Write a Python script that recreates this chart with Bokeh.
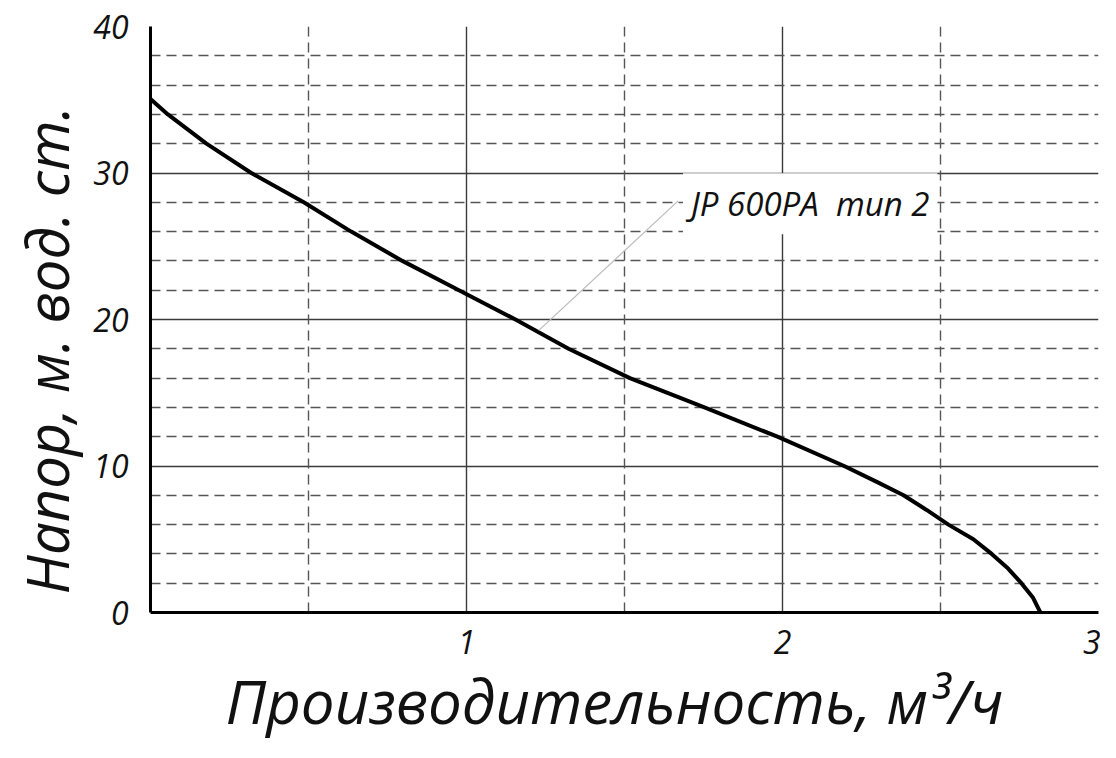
from bokeh.plotting import figure
from bokeh.models import ColumnDataSource, FixedTicker, Grid, Label, Range1d, Title
from bokeh.embed import file_html
from bokeh.resources import INLINE

# Data: pump curve JP 600PA тип 2 (flow m3/h, head m)
flow = [0.0, 0.055, 0.177, 0.319, 0.485, 0.635, 0.797, 0.976, 1.155, 1.323,
        1.517, 1.753, 1.984, 2.195, 2.30, 2.383, 2.456, 2.525, 2.604, 2.662,
        2.714, 2.756, 2.793, 2.816]
head = [35.05, 34, 32, 30, 28, 26, 24, 22, 20, 18,
        16, 14, 12, 10, 8.9, 8, 7, 6, 5, 4,
        3, 2, 1, 0]
x_ticks = [1, 2, 3]
y_ticks = [0, 10, 20, 30, 40]
x_major_grid = [1, 2]
x_minor_grid = [0.5, 1.5, 2.5]
y_major_grid = [10, 20, 30]
y_minor_grid = [2, 4, 6, 8, 12, 14, 16, 18, 22, 24, 26, 28, 32, 34, 36, 38]
series_name = "JP 600PA \u00a0тип 2"
x_title = "Производительность, м³/ч"
y_title = "Напор, м. вод. ст."
leader_x = [1.229, 1.67]
leader_y = [19.26, 28.1]

FONT = "Open Sans"

p = figure(width=1100, height=742, output_backend="svg", toolbar_location=None,
           x_range=Range1d(0, 3), y_range=Range1d(0, 40),
           min_border_left=150, min_border_right=2, min_border_top=26,
           min_border_bottom=130)
p.outline_line_color = None
p.background_fill_color = "white"

# grids
p.xgrid.ticker = FixedTicker(ticks=x_major_grid)
p.xgrid.grid_line_color = "#3a3a3a"
p.xgrid.grid_line_width = 1.4
p.ygrid.ticker = FixedTicker(ticks=y_major_grid)
p.ygrid.grid_line_color = "#3a3a3a"
p.ygrid.grid_line_width = 1.4

gx = Grid(dimension=0, ticker=FixedTicker(ticks=x_minor_grid),
          grid_line_color="#555555", grid_line_width=1.4, grid_line_dash="10 6")
gy = Grid(dimension=1, ticker=FixedTicker(ticks=y_minor_grid),
          grid_line_color="#555555", grid_line_width=1.4, grid_line_dash="10 6")
p.add_layout(gx)
p.add_layout(gy)

# axes
for ax in (p.xaxis, p.yaxis):
    ax.axis_line_color = "black"
    ax.axis_line_width = 3
    ax.major_tick_line_color = None
    ax.minor_tick_line_color = None
    ax.major_tick_out = 0
    ax.major_tick_in = 0
    ax.minor_tick_out = 0
    ax.major_label_text_font = FONT
    ax.major_label_text_font_style = "italic"
    ax.major_label_text_font_size = "32px"
    ax.major_label_text_color = "#111111"

p.xaxis.ticker = FixedTicker(ticks=x_ticks)
p.yaxis.ticker = FixedTicker(ticks=y_ticks)
p.xaxis.major_label_standoff = 17
p.yaxis.major_label_standoff = 22

src = ColumnDataSource(data=dict(x=flow, y=head))
p.line("x", "y", source=src, line_color="black", line_width=4,
       line_join="round")

p.line(leader_x, leader_y, line_color="#bbbbbb", line_width=1.2)

lab = Label(x=1.685, y=27.9, text=series_name, text_font=FONT,
            text_font_style="italic", text_font_size="33px",
            text_color="#111111", text_baseline="middle",
            background_fill_color="white", padding=8)
p.add_layout(lab)

# axis titles
xt = Title(text=x_title, text_font=FONT, text_font_style="italic",
           text_font_size="60px", text_color="#111111", align="left",
           offset=75, standoff=2)
yt = Title(text=y_title, text_font=FONT, text_font_style="italic",
           text_font_size="58px", text_color="#111111", align="left",
           offset=18, standoff=9)
p.add_layout(xt, "below")
p.add_layout(yt, "left")

open("out.html", "w").write(file_html(p, INLINE))
